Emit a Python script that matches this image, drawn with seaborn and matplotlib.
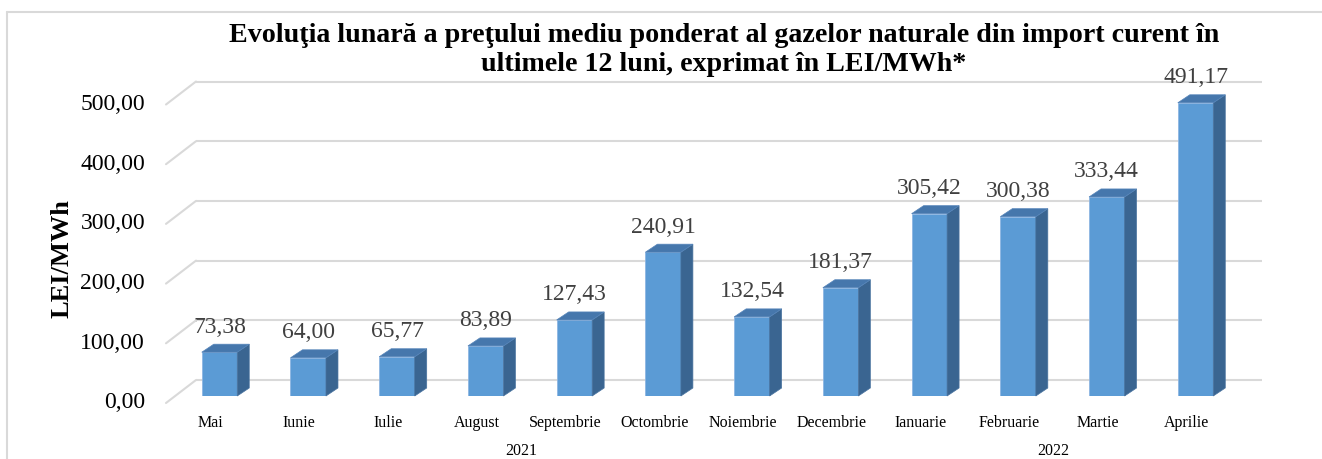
import matplotlib
matplotlib.use("Agg")
import matplotlib.pyplot as plt
import matplotlib.transforms as mtransforms
from matplotlib.patches import Polygon
import seaborn as sns
import pandas as pd

# ---------------- data ----------------
months = ["Mai", "Iunie", "Iulie", "August", "Septembrie", "Octombrie",
          "Noiembrie", "Decembrie", "Ianuarie", "Februarie", "Martie", "Aprilie"]
years = ["2021", "2022"]
year_counts = [8, 4]
prices = [73.38, 64.00, 65.77, 83.89, 127.43, 240.91,
          132.54, 181.37, 305.42, 300.38, 333.44, 491.17]
yticks = [0, 100, 200, 300, 400, 500]
title_lines = ["Evoluţia lunară a preţului mediu ponderat al gazelor naturale din import curent în",
               "ultimele 12 luni, exprimat în LEI/MWh*"]
ylabel = "LEI/MWh"

# ---------------- style ----------------
sns.set_style("white")
plt.rcParams["font.family"] = ["Liberation Serif", "DejaVu Serif"]

W, H, DPI = 1322, 459, 100
fig = plt.figure(figsize=(W / DPI, H / DPI), dpi=DPI)

# axes geometry in pixels (bar plane)
spacing = 88.73
x_left = 219.5 - spacing / 2
x_right = x_left + 12 * spacing
y_base = 396.0
px_per_unit = 0.597
ymax = 520
ax_h = ymax * px_per_unit
ax = fig.add_axes([x_left / W, (H - y_base) / H, (x_right - x_left) / W, ax_h / H])

df = pd.DataFrame({"month": months, "price": prices})
sns.barplot(data=df, x="month", y="price", ax=ax, color="#5B9BD5",
            width=0.40, saturation=1, edgecolor="#8EB6E3", linewidth=0.6, zorder=3)
ax.set_xlim(-0.5, 11.5)
ax.set_ylim(0, ymax)
ax.axis("off")


def off(dx, dy):
    return ax.transData + mtransforms.ScaledTranslation(dx / DPI, -dy / DPI, fig.dpi_scale_trans)


grid_c = "#D9D9D9"
# back-wall gridlines (16 px above bar plane), floor diagonals to front axis (7 px below)
x_back0 = (196 - x_left) / spacing - 0.5
x_back1 = (1262 - x_left) / spacing - 0.5
x_front = (166 - x_left) / spacing - 0.5
for v in yticks:
    ax.plot([x_back0, x_back1], [v, v], color=grid_c, lw=1.5, transform=off(0, -16),
            clip_on=False, zorder=1, solid_capstyle="butt")
    p_front = off(0, 7).transform((x_front, v))
    p_back = off(0, -16).transform((x_back0, v))
    fig.lines.append(plt.Line2D([p_front[0], p_back[0]], [p_front[1], p_back[1]],
                                transform=None, color=grid_c, lw=1.5, zorder=1))
    ax.text(x_front, v, f"{v:.2f}".replace(".", ","),
            transform=off(-21, 7), ha="right", va="center", fontsize=17, color="#000000")

# 3D sides and tops of bars
ddx, ddy = 12, 8
for p in ax.patches:
    x0, w, h = p.get_x(), p.get_width(), p.get_height()
    to_px = ax.transData.transform
    br = to_px((x0 + w, 0)); tr = to_px((x0 + w, h)); tl = to_px((x0, h))
    side = [br, (br[0] + ddx, br[1] + ddy), (tr[0] + ddx, tr[1] + ddy), tr]
    top = [tl, tr, (tr[0] + ddx, tr[1] + ddy), (tl[0] + ddx, tl[1] + ddy)]
    fig.patches.append(Polygon(side, closed=True, transform=None, facecolor="#3A6591",
                               edgecolor="#4A74A0", lw=0.5, zorder=4))
    fig.patches.append(Polygon(top, closed=True, transform=None, facecolor="#4677AC",
                               edgecolor="#5685BA", lw=0.5, zorder=4))

# data labels
for i, v in enumerate(prices):
    ax.text(i, v, f"{v:.2f}".replace(".", ","), transform=off(0, -25),
            ha="center", va="center", fontsize=17, color="#404040", zorder=5)

# category labels
for i, m in enumerate(months):
    ax.text(i, 0, m, transform=off(-9, 27), ha="center", va="center",
            fontsize=11.5, color="#000000")

# year labels
start = 0
for yr, n in zip(years, year_counts):
    mid = start + (n - 1) / 2
    ax.text(mid, 0, yr, transform=off(-9, 55), ha="center", va="center",
            fontsize=11.5, color="#000000")
    start += n

# y label
fig.text(62 / W, 1 - 259 / H, ylabel, rotation=90, ha="center", va="center",
         fontsize=19, fontweight="bold", color="#000000")

# title (two lines)
for line, base in zip(title_lines, [42, 71]):
    fig.text(724 / W, 1 - base / H, line, ha="center", va="baseline", fontsize=20.2,
             fontweight="bold", color="#000000")

# chart border (top and left visible)
fig.lines.append(plt.Line2D([7, 7], [0, H - 12], transform=None, color=grid_c, lw=1.5))
fig.lines.append(plt.Line2D([7, W], [H - 12, H - 12], transform=None, color=grid_c, lw=1.5))

fig.savefig("out.png", dpi=DPI)
